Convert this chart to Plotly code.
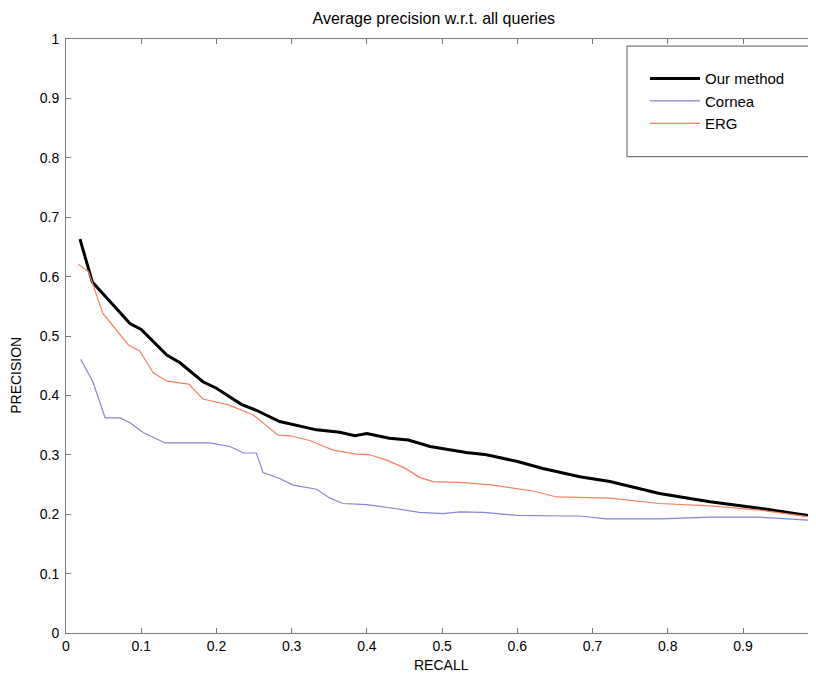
import plotly.graph_objects as go

recall_ours = [0.0186, 0.035, 0.06, 0.085, 0.1, 0.134, 0.1515, 0.182, 0.2, 0.233, 0.253, 0.284, 0.333, 0.364,
               0.384, 0.4, 0.43, 0.455, 0.484, 0.532, 0.559, 0.599, 0.634, 0.683, 0.723, 0.789, 0.856, 0.922, 0.997]
prec_ours = [0.663, 0.591, 0.556, 0.521, 0.511, 0.468, 0.455, 0.423, 0.412, 0.385, 0.375, 0.356, 0.342, 0.338,
             0.332, 0.336, 0.328, 0.325, 0.314, 0.304, 0.300, 0.289, 0.277, 0.263, 0.255, 0.235, 0.221, 0.210, 0.196]

recall_cornea = [0.0195, 0.036, 0.052, 0.072, 0.085, 0.103, 0.132, 0.191, 0.218, 0.236, 0.253, 0.262, 0.284,
                 0.302, 0.333, 0.351, 0.368, 0.4, 0.435, 0.47, 0.501, 0.524, 0.555, 0.599, 0.665, 0.683, 0.718,
                 0.789, 0.856, 0.922, 0.997]
prec_cornea = [0.461, 0.422, 0.362, 0.362, 0.354, 0.337, 0.320, 0.320, 0.314, 0.303, 0.303, 0.270, 0.260,
               0.249, 0.242, 0.227, 0.218, 0.216, 0.210, 0.203, 0.201, 0.204, 0.203, 0.198, 0.197, 0.197, 0.192,
               0.192, 0.195, 0.195, 0.189]

recall_erg = [0.0164, 0.030, 0.049, 0.065, 0.083, 0.098, 0.116, 0.134, 0.163, 0.182, 0.198, 0.216, 0.249,
              0.282, 0.298, 0.324, 0.355, 0.386, 0.404, 0.426, 0.45, 0.47, 0.488, 0.528, 0.568, 0.594, 0.621,
              0.652, 0.683, 0.723, 0.789, 0.856, 0.922, 0.997]
prec_erg = [0.621, 0.608, 0.538, 0.513, 0.485, 0.475, 0.438, 0.424, 0.419, 0.394, 0.389, 0.384, 0.367,
            0.333, 0.332, 0.324, 0.308, 0.301, 0.300, 0.291, 0.278, 0.262, 0.255, 0.253, 0.249, 0.244, 0.239,
            0.229, 0.228, 0.227, 0.218, 0.214, 0.207, 0.194]

x_ticks = [0, 0.1, 0.2, 0.3, 0.4, 0.5, 0.6, 0.7, 0.8, 0.9]
y_ticks = [0, 0.1, 0.2, 0.3, 0.4, 0.5, 0.6, 0.7, 0.8, 0.9, 1]

FONT = "Liberation Sans, Arial, sans-serif"

fig = go.Figure()
fig.add_trace(go.Scatter(x=recall_ours, y=prec_ours, mode="lines", name="Our method",
                         line=dict(color="#000000", width=3), legendgroup="a"))
fig.add_trace(go.Scatter(x=recall_cornea, y=prec_cornea, mode="lines", name="Cornea",
                         line=dict(color="#8585d6", width=1.2), legendgroup="b"))
fig.add_trace(go.Scatter(x=recall_erg, y=prec_erg, mode="lines", name="ERG",
                         line=dict(color="#f5805f", width=1.2), legendgroup="c"))

axis_common = dict(showgrid=False, zeroline=False, showline=True, linecolor="#7a7a7a", linewidth=1,
                   mirror="ticks", ticks="inside", ticklen=5, tickcolor="#7a7a7a", automargin=False,
                   tickfont=dict(family=FONT, size=14, color="#000"))

fig.update_layout(
    width=808, height=666,
    margin=dict(l=58, r=0, t=31, b=41, autoexpand=False),
    paper_bgcolor="white", plot_bgcolor="white",
    title=dict(text="Average precision w.r.t. all queries", x=0.527, xanchor="center",
               y=1 - 10 / 666, yanchor="middle",
               font=dict(family=FONT, size=16, color="#000")),
    xaxis=dict(range=[0, 0.997], tickvals=x_ticks, ticktext=[str(v) for v in x_ticks],
               **axis_common),
    yaxis=dict(range=[0, 1], tickvals=y_ticks, ticktext=[str(v) for v in y_ticks],
               ticklabelstandoff=3, **axis_common),
    legend=dict(x=0.772, y=0.961, xanchor="left", yanchor="top", bgcolor="rgba(0,0,0,0)", borderwidth=0,
                font=dict(family=FONT, size=15, color="#000"), traceorder="grouped", tracegroupgap=0,
                itemwidth=50),
    showlegend=True,
    annotations=[
        dict(text="RECALL", xref="paper", yref="paper", x=0.5, y=-32 / 594, xanchor="center", yanchor="middle",
             showarrow=False, font=dict(family=FONT, size=14, color="#000")),
        dict(text="PRECISION", xref="paper", yref="paper", x=-50 / 750, y=0.433, xanchor="center",
             yanchor="middle", textangle=-90, showarrow=False, font=dict(family=FONT, size=14, color="#000")),
    ],
    shapes=[dict(type="rect", xref="paper", yref="paper", x0=0.748, x1=0.993, y0=0.802, y1=0.988,
                 line=dict(color="#7a7a7a", width=1.2), fillcolor="rgba(0,0,0,0)", layer="below")],
)

fig.write_html("out.html")
